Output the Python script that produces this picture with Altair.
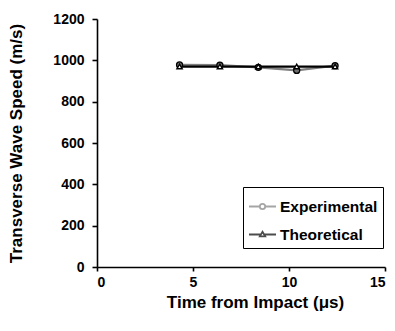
import altair as alt
import pandas as pd

times = [4.3, 6.4, 8.4, 10.4, 12.4]
experimental = [978, 977, 966, 951, 974]
theoretical = [970, 970, 970, 970, 970]
series_names = ["Experimental", "Theoretical"]
series_colors = ["#808080", "#000000"]
x_ticks = [0, 5, 10, 15]
y_ticks = [0, 200, 400, 600, 800, 1000, 1200]

rows = []
for t, e in zip(times, experimental):
    rows.append({"time": t, "speed": e, "series": "Experimental"})
for t, v in zip(times, theoretical):
    rows.append({"time": t, "speed": v, "series": "Theoretical"})
df = pd.DataFrame(rows)

FONT = "Liberation Sans"

exp_path = ("M-1,0L-0.2,0M0.2,0L1,0M-0.2,0A0.2,0.2,0,1,0,0.2,0"
            "A0.2,0.2,0,1,0,-0.2,0Z")
the_path = "M-1,0L-0.16,0M0.16,0L1,0M-0.2,0.14L0,-0.2L0.2,0.14Z"

x_enc = alt.X(
    "time:Q",
    scale=alt.Scale(domain=[0, 15], nice=False),
    axis=alt.Axis(
        values=x_ticks, format="d", title="Time from Impact (μs)", grid=False,
        tickSize=4, labelPadding=4, titlePadding=5,
        titleX=158, titleAlign="center",
    ),
)
y_enc = alt.Y(
    "speed:Q",
    scale=alt.Scale(domain=[0, 1200], nice=False),
    axis=alt.Axis(
        values=y_ticks, format="d", title="Transverse Wave Speed (m/s)",
        grid=False, tickSize=5, labelPadding=8, titlePadding=27,
    ),
)
legend = alt.Legend(
    orient="none", legendX=146, legendY=168, title=None,
    strokeColor="black", fillColor="white", padding=5,
    labelFont=FONT, labelFontWeight="bold", labelFontSize=15.5,
    labelColor="black", labelOffset=3, rowPadding=5,
    symbolSize=729, symbolStrokeWidth=1.8, symbolFillColor="white",
)
color_scale = alt.Scale(domain=series_names, range=series_colors)

lines = alt.Chart(df).mark_line(strokeWidth=2.2).encode(
    x=x_enc, y=y_enc,
    color=alt.Color("series:N", scale=color_scale, legend=legend),
    order=alt.Order("time:Q"),
)

legend_layer = alt.Chart(df).transform_filter("false").mark_point(
    filled=False, strokeWidth=1.8
).encode(
    x="time:Q", y="speed:Q",
    color=alt.Color("series:N", scale=color_scale, legend=legend),
    shape=alt.Shape(
        "series:N",
        scale=alt.Scale(domain=series_names, range=[exp_path, the_path]),
        legend=legend,
    ),
)

exp_pts = alt.Chart(df).transform_filter(
    alt.datum.series == "Experimental"
).mark_point(
    shape="circle", filled=True, fill="#6e6e6e", stroke="#000000",
    strokeWidth=1.3, size=36, opacity=1
).encode(x="time:Q", y="speed:Q")

the_pts = alt.Chart(df).transform_filter(
    alt.datum.series == "Theoretical"
).mark_point(
    shape="triangle-up", filled=True, fill="#ffffff", stroke="#000000",
    strokeWidth=1.4, size=28, opacity=1
).encode(x="time:Q", y="speed:Q")

chart = alt.layer(lines, exp_pts, the_pts, legend_layer).properties(
    width=288, height=248,
    autosize=alt.AutoSizeParams(type="none"),
    padding={"left": 97, "top": 19, "right": 10, "bottom": 64},
    background="white",
).configure_view(stroke=None).configure_axis(
    domainColor="black", domainWidth=1.6, tickColor="black", tickWidth=1.6,
    labelFont=FONT, labelFontWeight="bold", labelFontSize=14,
    labelColor="black", titleFont=FONT, titleFontWeight="bold",
    titleFontSize=17, titleColor="black",
)

chart.save("out.html", embed_options={"renderer": "svg", "actions": False})
